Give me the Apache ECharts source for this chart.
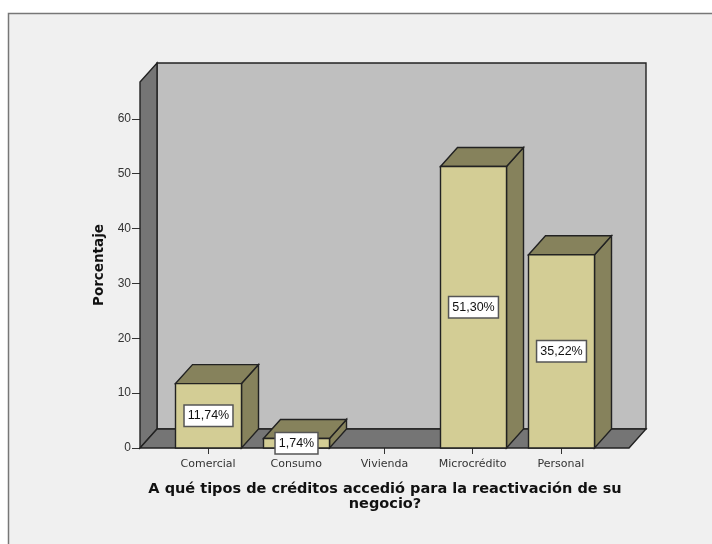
<!DOCTYPE html>
<html>
<head>
<meta charset="utf-8">
<style>
  html, body { margin: 0; padding: 0; background: #fff; }
  #main { width: 712px; height: 544px; }
</style>
<script src="https://cdn.jsdelivr.net/npm/echarts@6/dist/echarts.min.js"></script>
</head>
<body>
<div id="main"></div>
<script>
  var categories = ['Comercial', 'Consumo', 'Vivienda', 'Microcrédito', 'Personal'];
  var values = [11.74, 1.74, 0, 51.30, 35.22];
  var valueLabels = ['11,74%', '1,74%', '', '51,30%', '35,22%'];
  var yTicks = [0, 10, 20, 30, 40, 50, 60];

  var depthX = 17, depthY = -19;
  var sidePad = 24;
  var lineColor = '#222';

  var chart = echarts.init(document.getElementById('main'));

  function poly(points, fill) {
    return {
      type: 'polygon',
      shape: { points: points },
      style: { fill: fill, stroke: lineColor, lineWidth: 1.4, lineJoin: 'miter' }
    };
  }

  // back wall, left wall and floor
  function renderWalls(params, api) {
    var c = params.coordSys;
    var l = c.x - sidePad, r = c.x + c.width + sidePad, t = c.y, b = c.y + c.height;
    return {
      type: 'group',
      children: [
        poly([[l + depthX, t + depthY], [r + depthX, t + depthY], [r + depthX, b + depthY], [l + depthX, b + depthY]], '#bfbfbf'),
        poly([[l, t], [l + depthX, t + depthY], [l + depthX, b + depthY], [l, b]], '#757575'),
        poly([[l, b], [l + depthX, b + depthY], [r + depthX, b + depthY], [r, b]], '#757575')
      ]
    };
  }

  function renderBar(params, api) {
    var v = api.value(1);
    if (!v) return null;
    var top = api.coord([api.value(0), v]);
    var base = api.coord([api.value(0), 0]);
    var w = api.size([1, 0])[0] * 0.75;
    var x0 = Math.round(top[0] - w / 2) + 0.5, x1 = x0 + Math.round(w);
    var y0 = top[1], y1 = base[1];
    return {
      type: 'group',
      children: [
        poly([[x1, y0], [x1 + depthX, y0 + depthY], [x1 + depthX, y1 + depthY], [x1, y1]], '#86825c'),
        poly([[x0, y0], [x0 + depthX, y0 + depthY], [x1 + depthX, y0 + depthY], [x1, y0]], '#86825c'),
        poly([[x0, y0], [x1, y0], [x1, y1], [x0, y1]], '#d3cd95'),
        {
          type: 'text',
          x: (x0 + x1) / 2,
          y: (y0 + y1) / 2,
          style: {
            text: valueLabels[params.dataIndex],
            align: 'center',
            verticalAlign: 'middle',
            font: '12.5px "Liberation Sans"',
            fill: '#111',
            backgroundColor: '#fff',
            borderColor: '#555',
            borderWidth: 1.5,
            padding: [4, 3, 3, 3]
          }
        }
      ]
    };
  }

  chart.setOption({
    backgroundColor: '#fff',
    animation: false,
    graphic: [{
      type: 'rect',
      z: -10,
      shape: { x: 8.5, y: 13.5, width: 720, height: 550 },
      style: { fill: '#f0f0f0', stroke: '#777', lineWidth: 1.5 }
    }, {
      type: 'text',
      x: 385,
      y: 496.5,
      style: {
        text: 'A qué tipos de créditos accedió para la reactivación de su\nnegocio?',
        align: 'center',
        verticalAlign: 'middle',
        font: 'bold 14.5px "DejaVu Sans"',
        lineHeight: 15,
        fill: '#111'
      }
    }],
    grid: { left: 164, top: 82, width: 441, height: 366 },
    xAxis: {
      type: 'category',
      data: categories,
      axisLine: { show: false },
      axisTick: { show: true, alignWithLabel: true, length: 6, lineStyle: { color: '#333' } },
      axisLabel: { margin: 11, color: '#333', fontFamily: 'DejaVu Sans', fontSize: 11, interval: 0 }
    },
    yAxis: {
      type: 'value',
      min: 0,
      max: 66.7,
      interval: 10,
      offset: sidePad,
      name: 'Porcentaje',
      nameLocation: 'middle',
      nameGap: 34,
      nameTextStyle: { fontFamily: 'DejaVu Sans', fontWeight: 'bold', fontSize: 13.5, color: '#111' },
      splitLine: { show: false },
      axisLine: { show: false },
      axisTick: { show: true, length: 8, customValues: yTicks, lineStyle: { color: '#333' } },
      axisLabel: {
        margin: 9,
        color: '#333',
        fontFamily: 'Liberation Sans',
        fontSize: 12,
        customValues: yTicks
      }
    },
    series: [{
      type: 'custom',
      clip: false,
      z: 1,
      renderItem: renderWalls,
      data: [[0, 0]],
      silent: true
    }, {
      type: 'custom',
      clip: false,
      z: 2,
      renderItem: renderBar,
      encode: { x: 0, y: 1 },
      data: values.map(function (v, i) { return [i, v]; })
    }]
  });
</script>
</body>
</html>
